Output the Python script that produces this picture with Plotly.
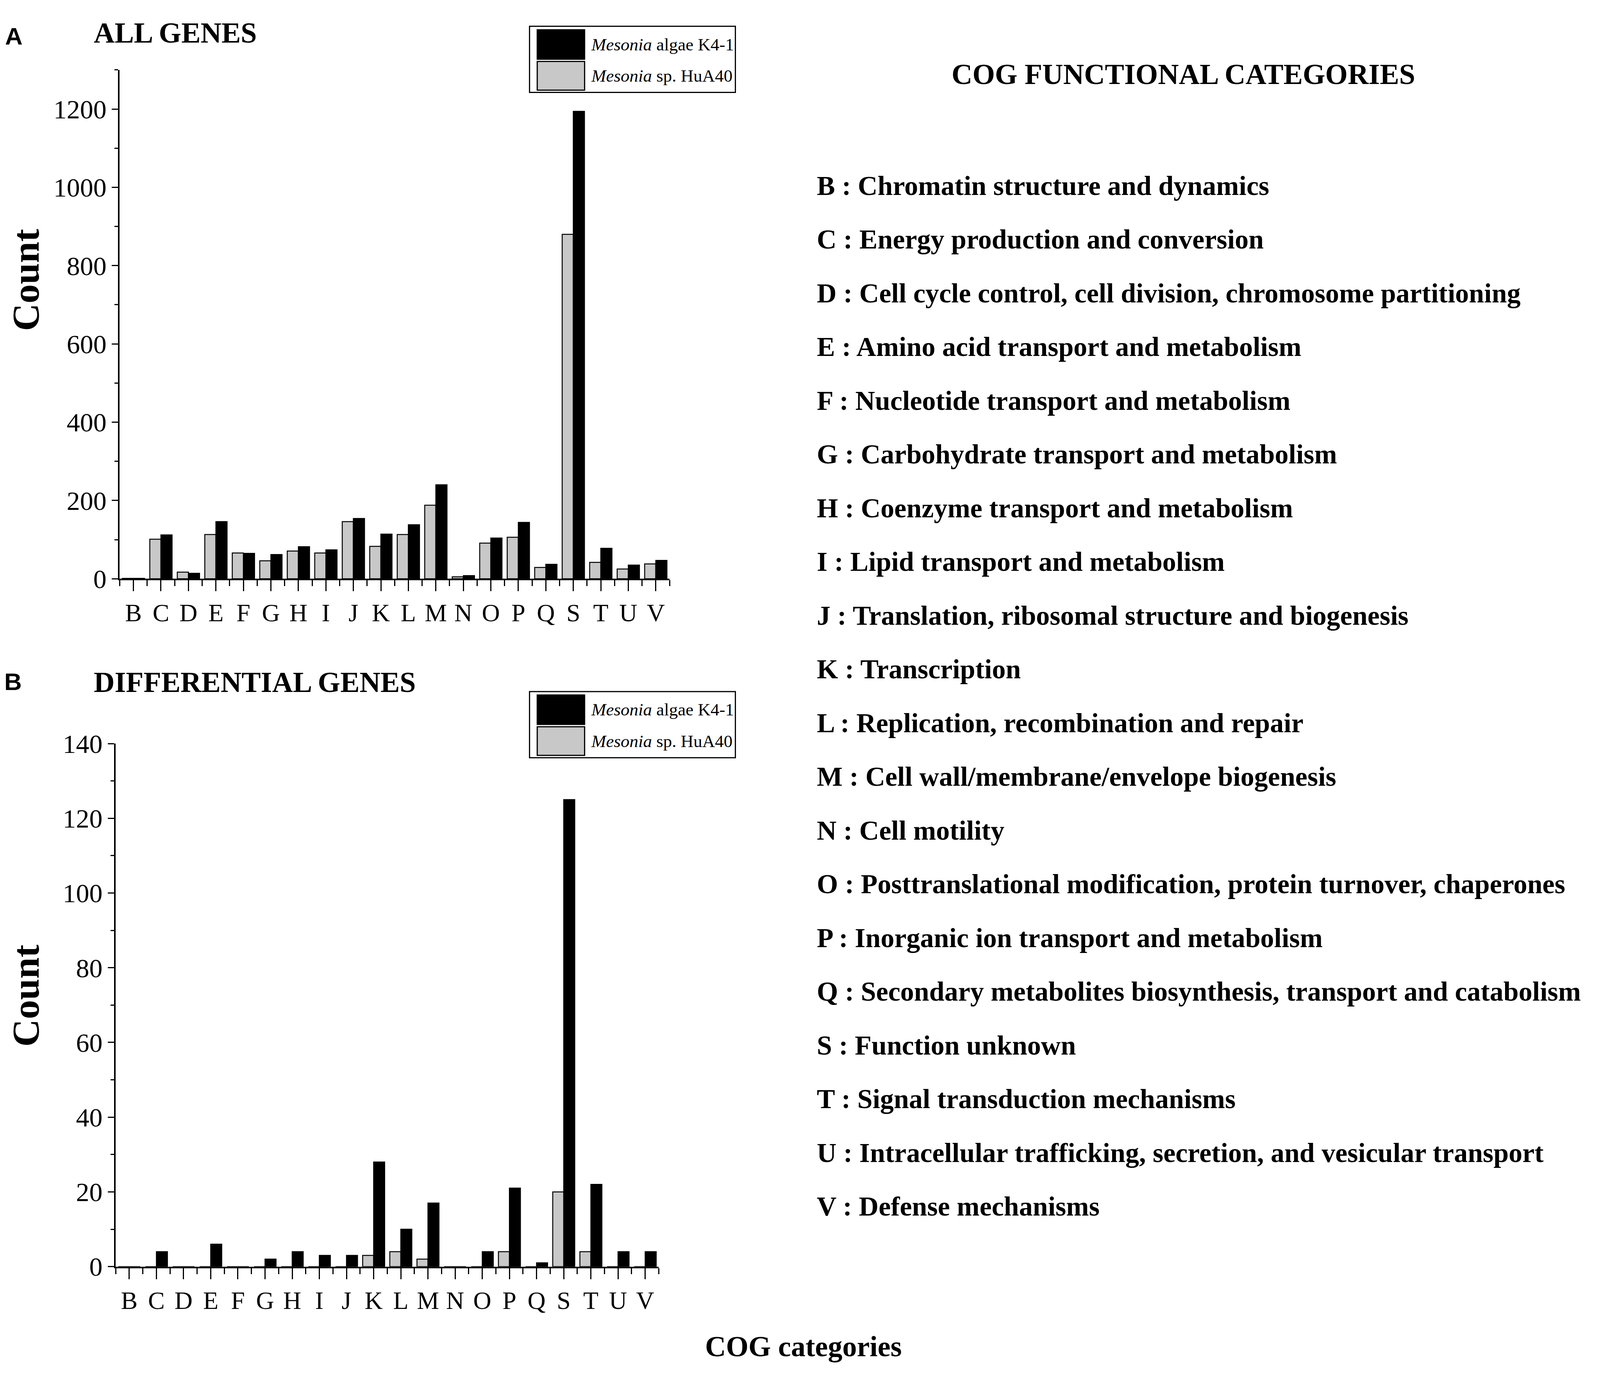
import plotly.graph_objects as go

# Reference frame (positions are measured in it and converted to paper fractions)
RW, RH = 5200, 3537
# The browser viewport is 4096 px wide, so the figure fills that
FW, FH = 4096, 3537

categories = ["B", "C", "D", "E", "F", "G", "H", "I", "J", "K",
              "L", "M", "N", "O", "P", "Q", "S", "T", "U", "V"]

# Panel A: all genes
all_hua40 = [1, 101, 17, 113, 66, 46, 71, 66, 146, 83, 113, 188, 5, 91, 106, 29, 880, 42, 25, 38]
all_k41 = [1, 112, 14, 146, 65, 62, 82, 74, 154, 114, 138, 240, 8, 104, 144, 37, 1194, 78, 35, 47]

# Panel B: differential genes
diff_hua40 = [0, 0, 0, 0, 0, 0, 0, 0, 0, 3, 4, 2, 0, 0, 4, 0, 20, 4, 0, 0]
diff_k41 = [0, 4, 0, 6, 0, 2, 4, 3, 3, 28, 10, 17, 0, 4, 21, 1, 125, 22, 4, 4]

cog_descriptions = [
    "Chromatin structure and dynamics",
    "Energy production and conversion",
    "Cell cycle control, cell division, chromosome partitioning",
    "Amino acid transport and metabolism",
    "Nucleotide transport and metabolism",
    "Carbohydrate transport and metabolism",
    "Coenzyme transport and metabolism",
    "Lipid transport and metabolism",
    "Translation, ribosomal structure and biogenesis",
    "Transcription",
    "Replication, recombination and repair",
    "Cell wall/membrane/envelope biogenesis",
    "Cell motility",
    "Posttranslational modification, protein turnover, chaperones",
    "Inorganic ion transport and metabolism",
    "Secondary metabolites biosynthesis, transport and catabolism",
    "Function unknown",
    "Signal transduction mechanisms",
    "Intracellular trafficking, secretion, and vesicular transport",
    "Defense mechanisms",
]

series_names = ["<i>Mesonia</i> algae K4-1", "<i>Mesonia</i> sp. HuA40"]
BLACK = "#000000"
GRAY = "#c8c8c8"
SERIF = "Liberation Serif, Times New Roman, serif"
SANS = "Liberation Sans, Arial, sans-serif"


def px(x, y):
    return x / RW, 1 - y / RH


xidx = list(range(len(categories)))

fig = go.Figure()
for xa, ya, gvals, kvals in [("x", "y", all_hua40, all_k41), ("x2", "y2", diff_hua40, diff_k41)]:
    fig.add_trace(go.Bar(x=xidx, y=gvals, marker=dict(color=GRAY, line=dict(color=BLACK, width=2.5)),
                         xaxis=xa, yaxis=ya, showlegend=False, name=series_names[1]))
    fig.add_trace(go.Bar(x=xidx, y=kvals, marker=dict(color=BLACK, line=dict(color=BLACK, width=2.5)),
                         xaxis=xa, yaxis=ya, showlegend=False, name=series_names[0]))


def xaxis_cfg(domain, anchor):
    return dict(domain=domain, anchor=anchor, range=[-0.5, len(categories) - 0.5],
                tickmode="array", tickvals=xidx, ticktext=categories,
                ticks="outside", ticklen=28, tickwidth=3, tickcolor=BLACK,
                minor=dict(tickmode="linear", tick0=-0.5, dtick=1, ticks="outside",
                           ticklen=15, tickwidth=3, tickcolor=BLACK),
                showline=True, linewidth=4, linecolor=BLACK, showgrid=False, zeroline=False,
                tickfont=dict(family=SERIF, size=64, color=BLACK), fixedrange=True)


def yaxis_cfg(domain, anchor, rng, dtick):
    return dict(domain=domain, anchor=anchor, range=rng, dtick=dtick, tick0=0,
                ticks="outside", ticklen=16, tickwidth=3, tickcolor=BLACK,
                minor=dict(dtick=dtick / 2, ticks="outside", ticklen=9, tickwidth=3,
                           tickcolor=BLACK),
                showline=True, linewidth=4, linecolor=BLACK, showgrid=False, zeroline=False,
                tickfont=dict(family=SERIF, size=68, color=BLACK), fixedrange=True)


fig.update_layout(
    width=FW, height=FH,
    margin=dict(l=0, r=0, t=0, b=0),
    paper_bgcolor="white", plot_bgcolor="white",
    barmode="group", bargap=0.19, bargroupgap=0,
    showlegend=False,
    xaxis=xaxis_cfg([389 / RW, 2176 / RW], "y"),
    yaxis=yaxis_cfg([1 - 1476 / RH, 1 - 145 / RH], "x", [0, 1300], 200),
    xaxis2=xaxis_cfg([376 / RW, 2141 / RW], "y2"),
    yaxis2=yaxis_cfg([1 - 3275 / RH, 1 - 1907 / RH], "x2", [0, 140], 20),
)

annotations = []
shapes = []


def text(x, y, s, size, family=SERIF, bold=True, xanchor="center", yanchor="middle", angle=0, pad=1):
    xx, yy = px(x, y)
    annotations.append(dict(x=xx, y=yy, xref="paper", yref="paper", text=(f"<b>{s}</b>" if bold else s),
                            showarrow=False, xanchor=xanchor, yanchor=yanchor, textangle=angle,
                            borderpad=pad,
                            font=dict(family=family, size=size, color=BLACK)))


# Panel labels and titles
text(45, 57, "A", 62, family=SANS)
text(42, 1745, "B", 62, family=SANS)
text(302, 48, "ALL GENES", 74, xanchor="left")
text(302, 1747, "DIFFERENTIAL GENES", 74, xanchor="left")
text(84, 694, "Count", 98, angle=-90, pad=0)
text(84, 2566, "Count", 98, angle=-90, pad=0)
text(2611, 3484, "COG categories", 74)

# Legends (one per panel)
for dy in [0, 1740]:
    x0, y0 = px(1721, 31 + dy)
    x1, y1 = px(2390, 204 + dy)
    shapes.append(dict(type="rect", xref="paper", yref="paper", x0=x0, y0=y0, x1=x1, y1=y1,
                       line=dict(color=BLACK, width=3), fillcolor="white"))
    for (top, bot, col, name) in [(40, 117, BLACK, series_names[0]), (123, 198, GRAY, series_names[1])]:
        a0, b0 = px(1746, top + dy)
        a1, b1 = px(1900, bot + dy)
        shapes.append(dict(type="rect", xref="paper", yref="paper", x0=a0, y0=b0, x1=a1, y1=b1,
                           line=dict(color=BLACK, width=3), fillcolor=col))
        text(1918, (top + bot) / 2 + dy, name, 45, bold=False, xanchor="left")

# COG functional categories list
text(3846, 156, "COG FUNCTIONAL CATEGORIES", 74)
for i, (c, d) in enumerate(zip(categories, cog_descriptions)):
    text(2652, 448 + i * 140.5, f"{c} : {d}", 70, xanchor="left")

fig.update_layout(annotations=annotations, shapes=shapes)
fig.write_html("out.html", config={"displayModeBar": False},
               post_script="document.body.style.margin='0';document.body.style.overflow='hidden';")
